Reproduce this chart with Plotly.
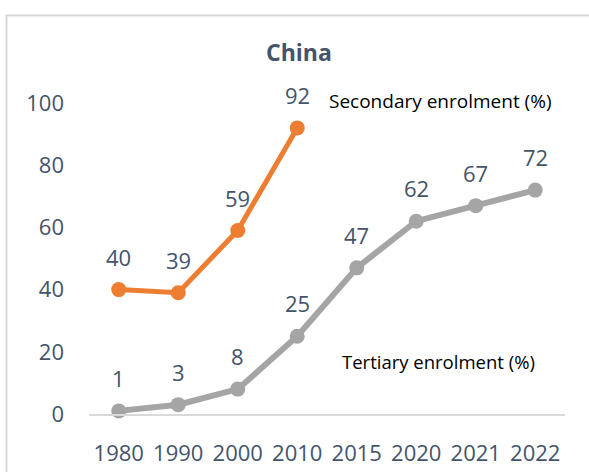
import plotly.graph_objects as go

years = ["1980", "1990", "2000", "2010", "2015", "2020", "2021", "2022"]
secondary_years = ["1980", "1990", "2000", "2010"]
secondary = [40, 39, 59, 92]
tertiary = [1, 3, 8, 25, 47, 62, 67, 72]
y_ticks = [0, 20, 40, 60, 80, 100]

TXT = "#44546A"
ORANGE = "#ED7D31"
GRAY = "#A5A5A5"
FONT = "Open Sans"

fig = go.Figure()
fig.add_trace(go.Scatter(
    x=years, y=tertiary, mode="lines+markers",
    line=dict(color=GRAY, width=6), marker=dict(color=GRAY, size=15),
    cliponaxis=False, showlegend=False, hoverinfo="skip"))
fig.add_trace(go.Scatter(
    x=secondary_years, y=secondary, mode="lines+markers",
    line=dict(color=ORANGE, width=5), marker=dict(color=ORANGE, size=15),
    cliponaxis=False, showlegend=False, hoverinfo="skip"))

annotations = []
for xs, ys in ((years, tertiary), (secondary_years, secondary)):
    for xv, yv in zip(xs, ys):
        annotations.append(dict(xref="x", yref="y", x=years.index(xv), y=yv,
                                text=str(yv), showarrow=False,
                                xanchor="center", yanchor="middle", yshift=33,
                                font=dict(family=FONT, size=22, color=TXT)))
annotations.append(dict(xref="paper", yref="paper", x=0.500, y=1.0065,
                        text="Secondary enrolment (%)", showarrow=False,
                        xanchor="left", yanchor="middle",
                        font=dict(family=FONT, size=19, color="#000000")))
annotations.append(dict(xref="paper", yref="paper", x=0.527, y=0.170,
                        text="Tertiary enrolment (%)", showarrow=False,
                        xanchor="left", yanchor="middle",
                        font=dict(family=FONT, size=18.5, color="#000000")))
annotations.append(dict(xref="paper", yref="paper", x=0.441, y=1.164,
                        text="<b>China</b>", showarrow=False,
                        xanchor="center", yanchor="middle",
                        font=dict(family=FONT, size=23, color=TXT)))

fig.update_layout(
    width=589, height=472,
    margin=dict(l=89, r=24, t=103, b=58),
    paper_bgcolor="white", plot_bgcolor="white",
    font=dict(family=FONT, size=22, color=TXT),
    annotations=annotations,
    shapes=[dict(type="rect", xref="paper", yref="paper",
                 x0=-0.1733, x1=1.2, y0=-0.4, y1=1.2814,
                 line=dict(color="#D9D9D9", width=2), layer="below")],
    xaxis=dict(type="category", categoryorder="array", categoryarray=years,
               range=[-0.5, 7.5], showgrid=False, showline=True,
               linecolor="#D9D9D9", linewidth=2, ticks="", zeroline=False,
               tickfont=dict(family=FONT, size=22, color=TXT),
               ticklabelstandoff=19, automargin=False),
    yaxis=dict(range=[0, 100], tickvals=y_ticks, showgrid=False,
               showline=False, zeroline=False, ticks="",
               tickfont=dict(family=FONT, size=22, color=TXT),
               ticklabelstandoff=24, automargin=False),
)

fig.write_html("out.html", config={"displayModeBar": False},
               post_script="document.body.style.margin='0';document.body.style.overflow='hidden';")
